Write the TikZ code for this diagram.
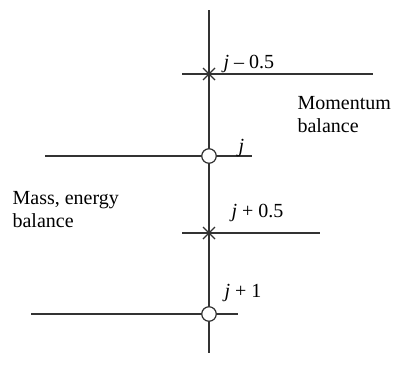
\documentclass[tikz,border=0pt]{standalone}
\usepackage{fontspec}
\setmainfont{Liberation Serif}
\begin{document}
\begin{tikzpicture}[x=1pt,y=-1pt,line width=1.2pt,
  ln/.style={draw=black!80},
  lbl/.style={font=\fontsize{20}{22.5}\selectfont,inner sep=0pt},
  cmark/.style={circle,draw=black!80,line width=1.2pt,fill=white,minimum size=14.5pt,inner sep=0pt}]
\useasboundingbox (0,0) rectangle (398,383);
\coordinate (vt) at (209,10);
\coordinate (vb) at (209,353);
\draw[ln] (vt) -- (vb);
% j-0.5
\coordinate (a1) at (182,74); \coordinate (a2) at (373,74);
\draw[ln] (a1) -- (a2);
\coordinate (x1) at (209,74);
\draw[ln] ([shift={(-6,-6)}]x1) -- ([shift={(6,6)}]x1);
\draw[ln] ([shift={(-6,6)}]x1) -- ([shift={(6,-6)}]x1);
% j
\coordinate (b1) at (45,156); \coordinate (b2) at (252,156);
\draw[ln] (b1) -- (b2);
\node[cmark] (c1) at (209,156) {};
% j+0.5
\coordinate (d1) at (182,233); \coordinate (d2) at (320,233);
\draw[ln] (d1) -- (d2);
\coordinate (x2) at (209,233);
\draw[ln] ([shift={(-6,-6)}]x2) -- ([shift={(6,6)}]x2);
\draw[ln] ([shift={(-6,6)}]x2) -- ([shift={(6,-6)}]x2);
% j+1
\coordinate (e1) at (31,314); \coordinate (e2) at (238,314);
\draw[ln] (e1) -- (e2);
\node[cmark] (c2) at (209,314) {};
% labels
\node[lbl,anchor=base west] (l1) at (223,68) {\textit{j} – 0.5};
\node[lbl,anchor=base west] (l2) at (238,152) {\textit{j}};
\node[lbl,anchor=base west,align=left] (l3) at (297,132) {Momentum\\balance};
\node[lbl,anchor=base west,align=left] (l4) at (12,227) {Mass, energy\\balance};
\node[lbl,anchor=base west] (l5) at (231,217) {\textit{j} + 0.5};
\node[lbl,anchor=base west] (l6) at (224,297) {\textit{j} + 1};
\end{tikzpicture}
\end{document}
